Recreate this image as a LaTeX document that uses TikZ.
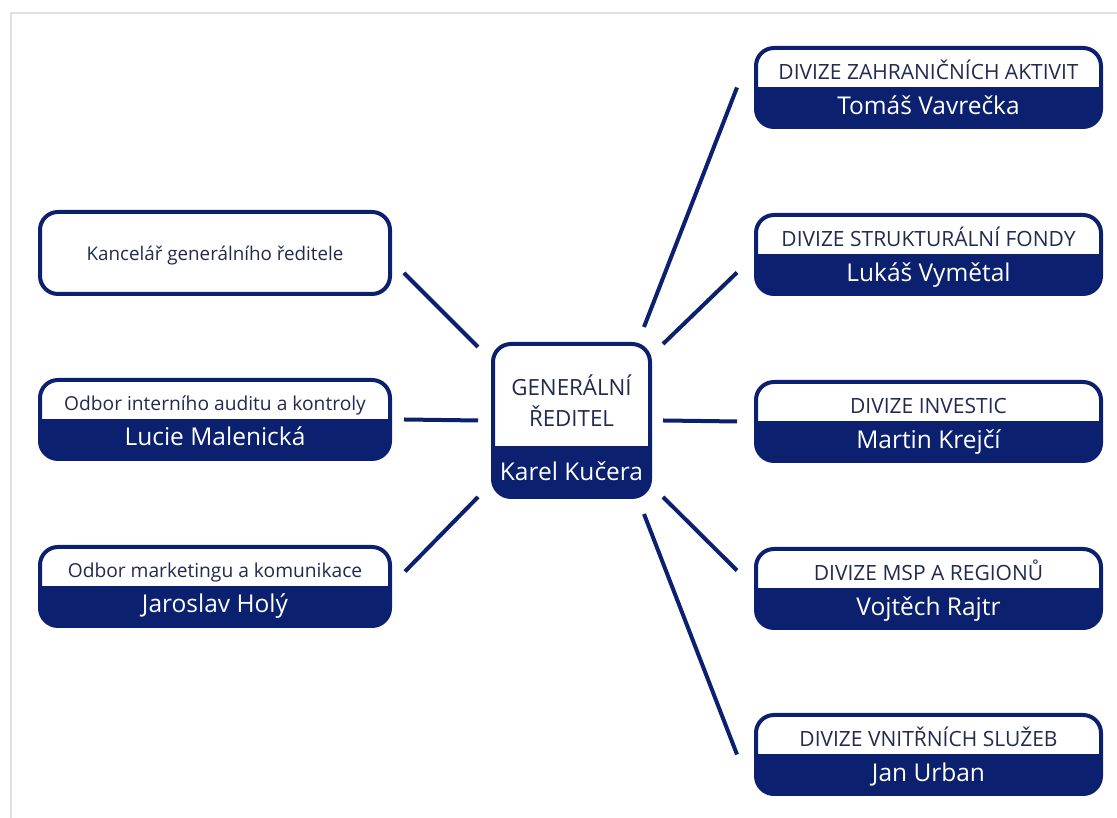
\documentclass[tikz,border=0pt]{standalone}
\usepackage{fontspec}
\setmainfont{Open Sans}
\definecolor{czblue}{RGB}{11,32,110}
\definecolor{czgrey}{RGB}{34,42,80}

\begin{document}
\begin{tikzpicture}[x=1pt,y=1pt,
    unit/.style={draw=czblue, line width=4pt, rounded corners=18pt, fill=white,
      minimum width=345pt, minimum height=79pt, inner sep=0pt,
      path picture={\fill[czblue, sharp corners] (path picture bounding box.south west)
        rectangle ([yshift=#1]path picture bounding box.south east);}},
    unit/.default=39.5pt,
    office/.style={draw=czblue, line width=4pt, rounded corners=18pt, fill=white,
      minimum width=350pt, minimum height=82pt, inner sep=0pt},
    head/.style={anchor=base, text=czgrey, font=\fontsize{21}{25}\selectfont},
    dept/.style={anchor=base, text=czgrey, font=\fontsize{19.2}{23}\selectfont},
    who/.style={anchor=base, text=white, font=\fontsize{24.5}{29}\selectfont},
    link/.style={draw=czblue, line width=4pt},
    rim/.style={draw=black!12, line width=2pt}]
  \useasboundingbox[fill=white] (0,0) rectangle (1117,818);
  \draw[rim] (11,0) -- (11,805) -- (1117,805);

  % generalni reditel
  \node[unit=51pt, minimum width=157pt, minimum height=153pt] (gr) at (571.5,397.5) {};
  \node[head, font=\fontsize{22.3}{26}\selectfont] (gr-t1) at ([yshift=24.5pt]gr.center) {GENERÁLNÍ};
  \node[head, font=\fontsize{22.3}{26}\selectfont] (gr-t2) at ([yshift=-6.5pt]gr.center) {ŘEDITEL};
  \node[who] (gr-n) at ([yshift=-60.5pt]gr.center) {Karel Kučera};

  % divize vpravo
  \node[unit] (zahr) at (928.5,730.5) {};
  \node[head] (zahr-t) at ([yshift=8pt]zahr.center) {DIVIZE ZAHRANIČNÍCH AKTIVIT};
  \node[who] (zahr-n) at ([yshift=-27pt]zahr.center) {Tomáš Vavrečka};

  \node[unit] (fondy) at (928.5,563.5) {};
  \node[head] (fondy-t) at ([yshift=8pt]fondy.center) {DIVIZE STRUKTURÁLNÍ FONDY};
  \node[who] (fondy-n) at ([yshift=-27pt]fondy.center) {Lukáš Vymětal};

  \node[unit] (invest) at (928.5,396.5) {};
  \node[head] (invest-t) at ([yshift=8pt]invest.center) {DIVIZE INVESTIC};
  \node[who] (invest-n) at ([yshift=-27pt]invest.center) {Martin Krejčí};

  \node[unit] (msp) at (928.5,229.5) {};
  \node[head] (msp-t) at ([yshift=8pt]msp.center) {DIVIZE MSP A REGIONŮ};
  \node[who] (msp-n) at ([yshift=-27pt]msp.center) {Vojtěch Rajtr};

  \node[unit] (sluzby) at (928.5,63.5) {};
  \node[head] (sluzby-t) at ([yshift=8pt]sluzby.center) {DIVIZE VNITŘNÍCH SLUŽEB};
  \node[who] (sluzby-n) at ([yshift=-27pt]sluzby.center) {Jan Urban};

  % odbory vlevo
  \node[office] (kanc) at (215,565) {};
  \node[dept, font=\fontsize{18.8}{22}\selectfont] (kanc-t) at ([yshift=-8pt]kanc.center) {Kancelář generálního ředitele};

  \node[unit, minimum width=350pt] (audit) at (215,398.5) {};
  \node[dept] (audit-t) at ([yshift=9pt]audit.center) {Odbor interního auditu a kontroly};
  \node[who] (audit-n) at ([yshift=-26.5pt]audit.center) {Lucie Malenická};

  \node[unit, minimum width=350pt] (mark) at (215,231.5) {};
  \node[dept] (mark-t) at ([yshift=9pt]mark.center) {Odbor marketingu a komunikace};
  \node[who] (mark-n) at ([yshift=-26.5pt]mark.center) {Jaroslav Holý};

  % spojnice
  \draw[link] ([shift={(-8,15)}]gr.north east) -- ([shift={(-17,0)}]zahr.west);
  \draw[link] ([shift={(11,-2)}]gr.north east) -- ([shift={(-17,-18)}]fondy.west);
  \draw[link] ([xshift=11pt]gr.east) -- ([xshift=-17pt]invest.west);
  \draw[link] ([shift={(11,2)}]gr.south east) -- ([shift={(-17,18)}]msp.west);
  \draw[link] ([shift={(-8,-15)}]gr.south east) -- ([shift={(-17,0)}]sluzby.west);
  \draw[link] ([shift={(12,-20)}]kanc.east) -- ([shift={(-13,-5)}]gr.north west);
  \draw[link] ([xshift=12pt]audit.east) -- ([xshift=-13pt]gr.west);
  \draw[link] ([shift={(13,15)}]mark.east) -- ([shift={(-13,2)}]gr.south west);
\end{tikzpicture}
\end{document}
